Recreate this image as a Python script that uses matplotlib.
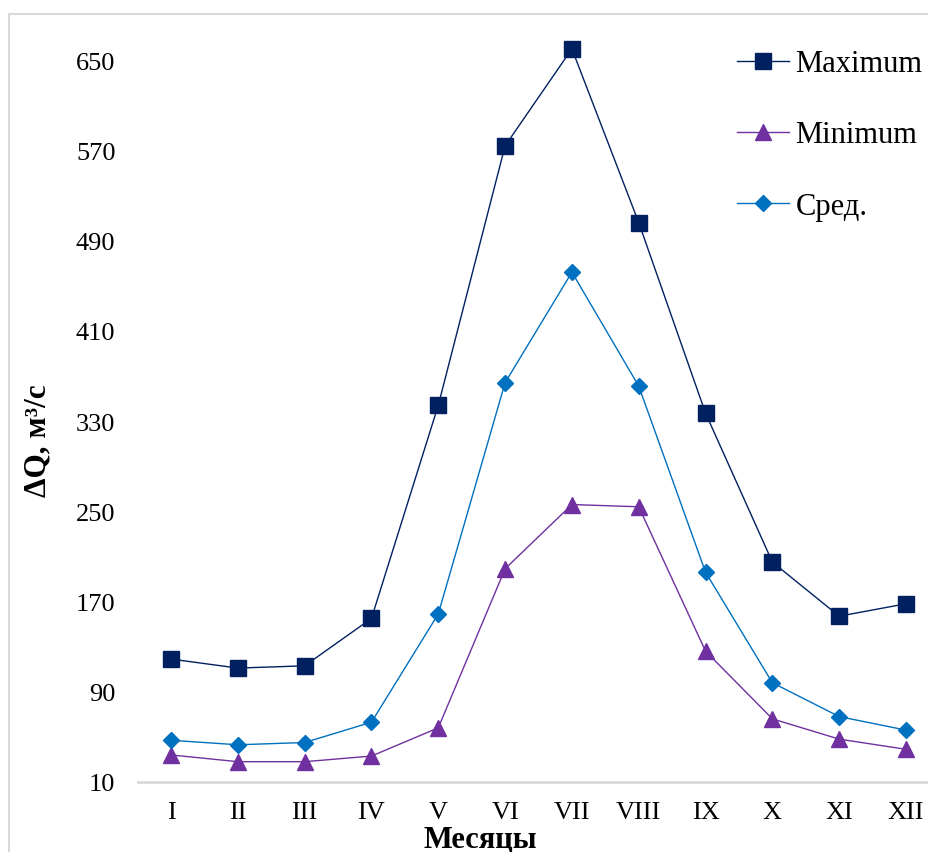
import matplotlib.pyplot as plt
from matplotlib.patches import Rectangle

plt.rcParams['font.family'] = ['Liberation Serif', 'DejaVu Serif']

months = ['I', 'II', 'III', 'IV', 'V', 'VI', 'VII', 'VIII', 'IX', 'X', 'XI', 'XII']
q_max = [119, 111, 113, 155, 344, 574, 660, 506, 337, 205, 157, 168]
q_min = [34, 28, 28, 33, 58, 199, 256, 254, 126, 66, 48, 39]
q_mean = [47, 43, 45, 63, 159, 364, 462, 361, 196, 98, 68, 56]
y_ticks = [10, 90, 170, 250, 330, 410, 490, 570, 650]

W, H = 929, 853
fig = plt.figure(figsize=(W / 100, H / 100), dpi=100)

# chart border (only top/left visible in the crop)
fig.add_artist(Rectangle((8.5 / W, -0.1), 1.2, 1.1 - 14.5 / H, transform=fig.transFigure,
                         fill=False, edgecolor='#d9d9d9', linewidth=1.5))

ax = fig.add_axes([137.6 / W, 1 - 783 / H, (939.4 - 137.6) / W, (783 - 16) / H])
x = list(range(len(months)))

ax.plot(x, q_max, color='#002060', linewidth=1, marker='s', markersize=11, label='Maximum')
ax.plot(x, q_min, color='#7030A0', linewidth=1, marker='^', markersize=12, label='Minimum')
ax.plot(x, q_mean, color='#0070C0', linewidth=1, marker='D', markersize=8.5, label='Сред.')

ax.set_xlim(-0.5, len(months) - 0.5)
ax.set_ylim(10, 690)
ax.set_xticks(x)
ax.set_xticklabels(months)
ax.set_yticks(y_ticks)
ax.tick_params(axis='both', length=0, labelsize=19)
ax.tick_params(axis='x', pad=14)
ax.tick_params(axis='y', pad=16)

for side in ['top', 'right', 'left']:
    ax.spines[side].set_visible(False)
ax.spines['bottom'].set_color('#d9d9d9')
ax.spines['bottom'].set_linewidth(2)

fig.text(38 / W, 1 - 441 / H, 'ΔQ, м³/с', fontsize=22.5, fontweight='bold', rotation=90,
         ha='center', va='center')
fig.text(480 / W, 1 - 840 / H, 'Месяцы', fontsize=22, fontweight='bold', ha='center', va='center')

ax.legend(loc='upper left', bbox_to_anchor=(725 / W, 1 - 38 / H), bbox_transform=fig.transFigure,
          frameon=False, fontsize=22, handlelength=1.7, handletextpad=0.2, labelspacing=1.38,
          borderaxespad=0)

fig.savefig('out.png', dpi=100)
